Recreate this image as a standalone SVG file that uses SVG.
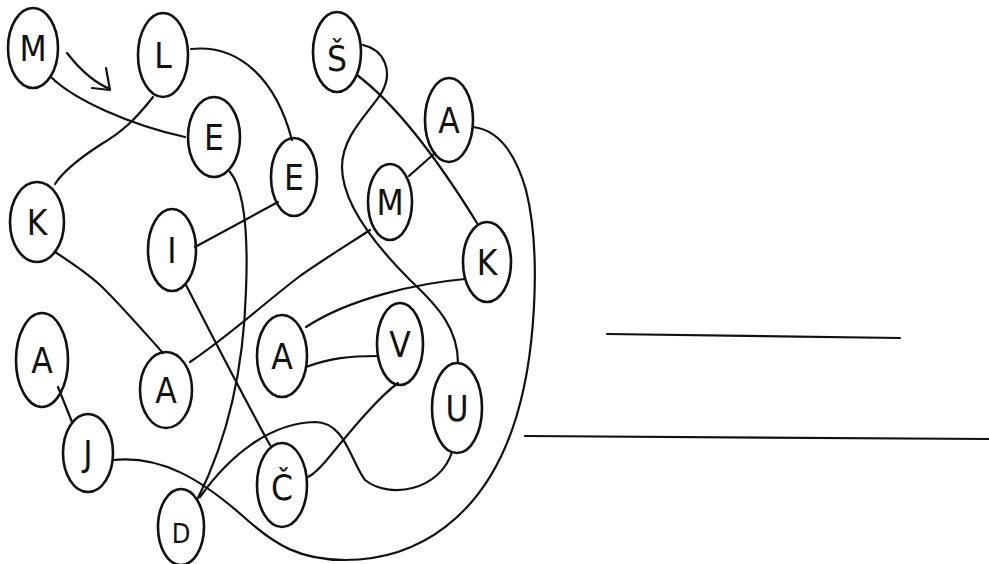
<svg xmlns="http://www.w3.org/2000/svg" width="989" height="564" viewBox="0 0 989 564">
<style>
.n ellipse{fill:none;stroke:#111;stroke-width:2.6}
.n text{font-family:"DejaVu Sans Condensed","Liberation Sans Narrow","Liberation Sans",sans-serif;font-size:35px;font-weight:300;fill:#111;text-anchor:middle}
.c path,.c polyline,.c line{fill:none;stroke:#111;stroke-width:2.2;stroke-linecap:round;stroke-linejoin:round}
</style>
<rect width="989" height="564" fill="#fff"/>
<g class="c" id="connectors">
<path d="M52,78 C75,100 130,125 185,137"/>
<path d="M153,97 C135,120 122,132 100,145 C80,158 64,170 55,184"/>
<path d="M191,49 C240,44 276,80 292,140"/>
<path d="M278,202 L195,247"/>
<path d="M230,172 C245,190 248,240 246,290 C244,360 232,430 198,498"/>
<path d="M186,285 C205,322 245,400 270,445"/>
<path d="M55,252 C75,265 88,274 100,285 C118,302 145,333 163,353"/>
<path d="M190,362 C230,335 262,305 300,276 C330,255 352,242 370,230"/>
<path d="M58,387 L72,422"/>
<path d="M113,460 C160,455 200,478 245,518 C275,545 300,560 345,560 C420,560 482,515 512,430 C537,360 541,250 526,190 C516,155 500,130 473,127"/>
<path d="M200,497 C230,455 270,423 315,422 C345,422 350,460 365,480 C390,500 440,490 452,452"/>
<path d="M357,75 C390,100 432,150 477,223"/>
<path d="M363,45 C385,50 393,72 382,92 C370,112 342,135 342,167 C342,200 370,240 410,280 C440,308 458,330 458,363"/>
<path d="M435,153 L409,176"/>
<path d="M465,279 C420,283 350,298 306,327"/>
<path d="M306,367 C330,358 350,356 377,356"/>
<path d="M398,383 C375,400 345,438 325,462 C318,470 312,475 308,477"/>
<path d="M67,53 Q88,80 110,89"/>
<polyline points="106,68 110,90 92,88"/>
<line x1="607" y1="334" x2="900" y2="338"/>
<line x1="525" y1="436" x2="989" y2="439"/>
</g>
<g class="n" id="n-M1"><ellipse cx="33" cy="48" rx="25" ry="40"/><text x="33" y="61">M</text></g>
<g class="n" id="n-L"><ellipse cx="163" cy="55" rx="25" ry="42"/><text x="163" y="68">L</text></g>
<g class="n" id="n-E1"><ellipse cx="214" cy="137" rx="26" ry="40"/><text x="214" y="150">E</text></g>
<g class="n" id="n-E2"><ellipse cx="294" cy="177" rx="23" ry="39"/><text x="294" y="190">E</text></g>
<g class="n" id="n-K1"><ellipse cx="37" cy="222" rx="27" ry="40"/><text x="37" y="235">K</text></g>
<g class="n" id="n-I"><ellipse cx="172" cy="250" rx="24" ry="41"/><text x="172" y="263">I</text></g>
<g class="n" id="n-S"><ellipse cx="337" cy="52" rx="24" ry="40"/><text x="337" y="71">Š</text></g>
<g class="n" id="n-A1"><ellipse cx="449" cy="120" rx="24" ry="42"/><text x="449" y="133">A</text></g>
<g class="n" id="n-M2"><ellipse cx="390" cy="202" rx="22" ry="38"/><text x="390" y="215">M</text></g>
<g class="n" id="n-K2"><ellipse cx="487" cy="262" rx="24" ry="40"/><text x="487" y="275">K</text></g>
<g class="n" id="n-A4"><ellipse cx="42" cy="360" rx="26" ry="47"/><text x="42" y="373">A</text></g>
<g class="n" id="n-J"><ellipse cx="88" cy="453" rx="25" ry="39"/><text x="88" y="466">J</text></g>
<g class="n" id="n-A2"><ellipse cx="166" cy="390" rx="26" ry="38"/><text x="166" y="403">A</text></g>
<g class="n" id="n-A3"><ellipse cx="282" cy="356" rx="25" ry="41"/><text x="282" y="369">A</text></g>
<g class="n" id="n-V"><ellipse cx="400" cy="344" rx="23" ry="41"/><text x="400" y="357">V</text></g>
<g class="n" id="n-U"><ellipse cx="457" cy="408" rx="25" ry="45"/><text x="457" y="421">U</text></g>
<g class="n" id="n-C"><ellipse cx="282" cy="485" rx="25" ry="42"/><text x="282" y="500">Č</text></g>
<g class="n" id="n-D"><ellipse cx="181" cy="527" rx="23" ry="38"/><text x="181" y="543" style="font-size:27px">D</text></g>
</svg>
